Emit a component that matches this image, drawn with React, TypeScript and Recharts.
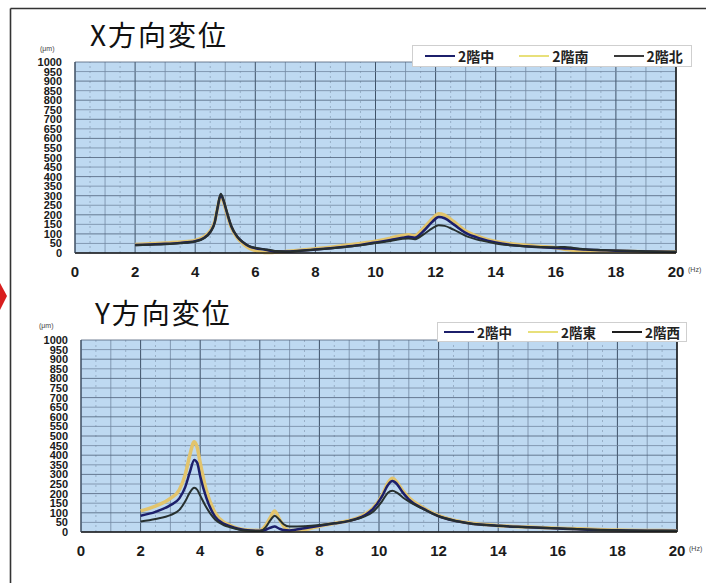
import React from 'react';
import {
  LineChart,
  Line,
  XAxis,
  YAxis,
  ReferenceLine,
  ReferenceArea,
} from 'recharts';

// X direction displacement (um) vs frequency (Hz)
const X_FREQ = [2, 2.5, 3, 3.5, 4, 4.3, 4.5, 4.65, 4.75, 4.85, 4.95, 5.05, 5.2, 5.4, 5.6, 5.8, 6, 6.3, 6.5, 6.7, 7, 7.5, 8, 8.5, 9, 9.5, 10, 10.5, 10.9, 11.1, 11.3, 11.6, 11.9, 12.1, 12.3, 12.6, 13, 13.5, 14, 14.5, 15, 15.5, 16, 16.3, 16.6, 17, 17.5, 18, 19, 20];
const X_MID = [42, 45, 48, 53, 62, 80, 110, 160, 240, 305, 270, 215, 140, 85, 55, 35, 25, 18, 12, 8, 8, 12, 18, 25, 33, 42, 55, 68, 80, 85, 80, 115, 165, 188, 182, 150, 105, 75, 55, 42, 35, 30, 26, 24, 22, 18, 15, 12, 8, 5];
const X_SOUTH = [45, 48, 52, 57, 66, 85, 115, 165, 240, 300, 265, 210, 135, 80, 48, 25, 12, 3, 2, 4, 8, 14, 22, 30, 40, 50, 62, 78, 92, 95, 90, 130, 180, 205, 198, 165, 115, 82, 60, 48, 40, 34, 28, 20, 13, 11, 10, 9, 7, 5];
const X_NORTH = [40, 43, 46, 51, 60, 78, 108, 160, 245, 310, 275, 218, 142, 86, 56, 36, 27, 20, 16, 10, 8, 12, 18, 24, 32, 40, 52, 63, 74, 76, 72, 98, 130, 145, 142, 122, 90, 66, 50, 40, 34, 31, 30, 32, 26, 20, 16, 13, 9, 6];

// Y direction displacement (um) vs frequency (Hz)
const Y_FREQ = [2, 2.5, 3, 3.3, 3.5, 3.65, 3.8, 3.9, 4, 4.2, 4.5, 4.8, 5, 5.5, 6, 6.2, 6.35, 6.5, 6.65, 6.8, 7, 7.5, 8, 8.5, 9, 9.5, 9.8, 10.1, 10.3, 10.45, 10.6, 10.8, 11, 11.5, 12, 12.5, 13, 14, 15, 16, 17, 18, 19, 20];
const Y_MID = [85, 105, 140, 175, 235, 310, 375, 360, 290, 180, 80, 42, 30, 10, 6, 12, 22, 28, 18, 10, 8, 20, 33, 45, 58, 85, 120, 185, 245, 265, 250, 205, 170, 120, 82, 60, 46, 32, 25, 18, 12, 9, 7, 6];
const Y_EAST = [110, 135, 175, 220, 300, 400, 470, 440, 360, 220, 100, 50, 35, 12, 8, 35, 75, 110, 70, 30, 8, 12, 30, 45, 60, 90, 125, 190, 255, 280, 260, 215, 180, 125, 85, 62, 48, 33, 26, 20, 15, 10, 8, 7];
const Y_WEST = [55, 68, 88, 115, 160, 205, 230, 220, 190, 130, 65, 35, 25, 8, 5, 25, 60, 85, 65, 40, 28, 30, 36, 45, 58, 80, 105, 160, 205, 215, 205, 180, 160, 118, 82, 60, 46, 32, 25, 20, 13, 9, 7, 5];

const FREQ_TICKS = [0, 2, 4, 6, 8, 10, 12, 14, 16, 18, 20];
const UM_TICKS = [0, 50, 100, 150, 200, 250, 300, 350, 400, 450, 500, 550, 600, 650, 700, 750, 800, 850, 900, 950, 1000];

const NAVY = '#1c1f6b';
const GOLD = '#e2c46c';
const DARK = '#27302f';
const PLOT_BG = '#bed9f1';

const MINOR_FREQ = Array.from({ length: 41 }, (_, i) => i * 0.5);

const xData = X_FREQ.map((f, i) => ({ f, mid: X_MID[i], south: X_SOUTH[i], north: X_NORTH[i] }));
const yData = Y_FREQ.map((f, i) => ({ f, mid: Y_MID[i], east: Y_EAST[i], west: Y_WEST[i] }));

const xSeries = [
  { key: 'south', name: '2階南', color: GOLD, legendColor: '#e8e07a', width: 3.5 },
  { key: 'mid', name: '2階中', color: NAVY, legendColor: NAVY, width: 2.5 },
  { key: 'north', name: '2階北', color: DARK, legendColor: '#3a3a3a', width: 2 },
];
const ySeries = [
  { key: 'east', name: '2階東', color: GOLD, legendColor: '#e8e07a', width: 3.5 },
  { key: 'mid', name: '2階中', color: NAVY, legendColor: NAVY, width: 2.5 },
  { key: 'west', name: '2階西', color: DARK, legendColor: '#1e1e1e', width: 2 },
];
const LEGEND_ORDER = [1, 0, 2];

const numFont = '"Liberation Sans", Arial, sans-serif';
const cjkFont = '"Noto Sans CJK JP", "Noto Sans", sans-serif';

const YTick = (props: any) => {
  const { x, y, payload } = props;
  return (
    <text x={x} y={y} dy={4} textAnchor="end" fontSize={11} fontWeight="bold" fontFamily={numFont} fill="#1a1a1a">
      {payload.value}
    </text>
  );
};

const XTick = (props: any) => {
  const { x, y, payload } = props;
  return (
    <text x={x} y={y} dy="0.72em" textAnchor="middle" fontSize={15} fontWeight="bold" fontFamily={numFont} fill="#1a1a1a">
      {payload.value}
    </text>
  );
};

function LegendBox({ series, style, gap, pad, fontSize }: any) {
  return (
    <div
      style={{
        position: 'absolute',
        background: '#fff',
        border: '1px solid #cfcfcf',
        display: 'flex',
        alignItems: 'center',
        paddingLeft: pad,
        gap,
        boxSizing: 'border-box',
        whiteSpace: 'nowrap',
        ...style,
      }}
    >
      {LEGEND_ORDER.map((i) => {
        const s = series[i];
        return (
          <div key={s.key} style={{ display: 'flex', alignItems: 'center', flexShrink: 0 }}>
            <span style={{ display: 'inline-block', width: 30, height: 2, background: s.legendColor }} />
            <span style={{ marginLeft: 3, fontFamily: cjkFont, fontWeight: 'bold', fontSize, color: '#222', lineHeight: '14px' }}>
              {s.name}
            </span>
          </div>
        );
      })}
    </div>
  );
}

function Panel({ data, series, width, height, margin }: any) {
  return (
    <LineChart width={width} height={height} data={data} margin={margin}>
      <XAxis
        dataKey="f"
        type="number"
        domain={[0, 20]}
        ticks={FREQ_TICKS}
        tick={<XTick />}
        tickLine={false}
        tickSize={0}
        tickMargin={13}
        axisLine={{ stroke: '#1a1a1a', strokeWidth: 1.5 }}
        height={30}
      />
      <YAxis
        type="number"
        domain={[0, 1000]}
        ticks={UM_TICKS}
        tick={<YTick />}
        tickLine={false}
        tickSize={0}
        tickMargin={13}
        axisLine={{ stroke: '#3a4a5e', strokeWidth: 1 }}
        width={60}
        interval={0}
      />
      <ReferenceArea x1={0} x2={20} y1={0} y2={1000} fill={PLOT_BG} fillOpacity={1} stroke="none" />
      {MINOR_FREQ.map((v) => (
        <ReferenceLine
          key={'v' + v}
          x={v}
          stroke={v % 2 === 0 ? '#3f5268' : v % 1 === 0 ? '#7489a2' : '#8ea4bc'}
          strokeWidth={v % 2 === 0 ? 1 : 0.8}
          strokeDasharray={v % 1 === 0 ? undefined : '2 3'}
        />
      ))}
      {UM_TICKS.map((v) => (
        <ReferenceLine
          key={'h' + v}
          y={v}
          stroke={v % 100 === 0 ? '#4e6178' : '#7489a2'}
          strokeWidth={0.8}
        />
      ))}
      <ReferenceLine x={20} stroke="#1a1a1a" strokeWidth={1.5} />
      {series.map((s: any) => (
        <Line
          key={s.key}
          dataKey={s.key}
          name={s.name}
          type="monotone"
          stroke={s.color}
          strokeWidth={s.width}
          dot={false}
          activeDot={false}
          isAnimationActive={false}
        />
      ))}
    </LineChart>
  );
}

export default function App() {
  return (
    <div style={{ position: 'absolute', left: 0, top: 0, width: 706, height: 583, background: '#fff', overflow: 'hidden' }}>
      {/* frame and arrow of the scanned page */}
      <svg width={706} height={583} style={{ position: 'absolute', left: 0, top: 0 }}>
        <line x1={10.5} y1={8.5} x2={706} y2={8.5} stroke="#333" strokeWidth={1.6} />
        <line x1={10.5} y1={8.5} x2={10.5} y2={583} stroke="#333" strokeWidth={1.6} />
        <polygon points="0,283 7,296 0,310" fill="#d81e1e" />
      </svg>

      <div style={{ position: 'absolute', left: 0, top: 0 }}>
        <Panel data={xData} series={xSeries} width={706} height={290} margin={{ top: 62, right: 30, bottom: 7, left: 15 }} />
      </div>
      <div style={{ position: 'absolute', left: 0, top: 290 }}>
        <Panel data={yData} series={ySeries} width={706} height={290} margin={{ top: 50, right: 29, bottom: 18, left: 21 }} />
      </div>

      <div style={{ position: 'absolute', left: 90, top: 16, fontFamily: cjkFont, fontSize: 28, letterSpacing: 2, lineHeight: '36px', color: '#111' }}>
        X方向変位
      </div>
      <div style={{ position: 'absolute', left: 95, top: 294, fontFamily: cjkFont, fontSize: 28, letterSpacing: 2, lineHeight: '36px', color: '#111' }}>
        Y方向変位
      </div>

      <div style={{ position: 'absolute', left: 40, top: 45, fontFamily: numFont, fontSize: 7, color: '#444' }}>(μm)</div>
      <div style={{ position: 'absolute', left: 39, top: 322, fontFamily: numFont, fontSize: 7, color: '#444' }}>(μm)</div>
      <div style={{ position: 'absolute', left: 688, top: 266, fontFamily: numFont, fontSize: 7, color: '#444' }}>(Hz)</div>
      <div style={{ position: 'absolute', left: 689, top: 545, fontFamily: numFont, fontSize: 7, color: '#444' }}>(Hz)</div>

      <LegendBox series={xSeries} gap={25} pad={12} fontSize={14} style={{ left: 412, top: 45, width: 280, height: 22 }} />
      <LegendBox series={ySeries} gap={16} pad={6} fontSize={13.5} style={{ left: 437, top: 322, width: 250, height: 20 }} />
    </div>
  );
}
